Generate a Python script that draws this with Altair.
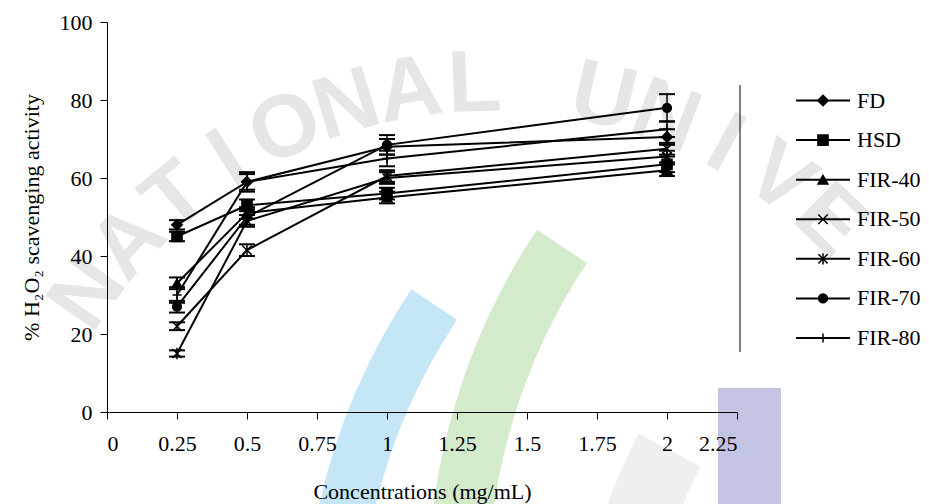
import math
import altair as alt
import pandas as pd

# Concentrations (mg/mL) and mean % H2O2 scavenging activity per drying method
conc = [0.25, 0.5, 1, 2]
series = ["FD", "HSD", "FIR-40", "FIR-50", "FIR-60", "FIR-70", "FIR-80"]

fd = [48, 59, 68, 70.5]
hsd = [45, 53, 56, 63.5]
fir40 = [33, 51, 55, 62]
fir50 = [22, 41.5, 60.5, 67.5]
fir60 = [15, 49, 60, 65.5]
fir70 = [27, 50, 68.5, 78]
fir80 = [30, 59, 65, 72.5]

# standard deviations
sd_fd = [1.2, 2.5, 2.0, 2.0]
sd_hsd = [1.2, 1.5, 1.5, 2.0]
sd_fir40 = [1.5, 1.5, 1.5, 1.5]
sd_fir50 = [1.0, 1.5, 1.5, 1.5]
sd_fir60 = [0.8, 1.5, 1.5, 1.5]
sd_fir70 = [1.5, 2.0, 2.5, 3.5]
sd_fir80 = [2.0, 2.0, 2.0, 2.0]

x_ticks = [0, 0.25, 0.5, 0.75, 1, 1.25, 1.5, 1.75, 2, 2.25]
y_ticks = [0, 20, 40, 60, 80, 100]

means = [fd, hsd, fir40, fir50, fir60, fir70, fir80]
sds = [sd_fd, sd_hsd, sd_fir40, sd_fir50, sd_fir60, sd_fir70, sd_fir80]

rows = []
for name, m, s in zip(series, means, sds):
    for c, v, e in zip(conc, m, s):
        rows.append({"series": name, "conc": c, "val": v, "lo": v - e, "hi": v + e})
df = pd.DataFrame(rows)
legend_df = pd.DataFrame({"series": series})

SERIF = "Times New Roman"
FS = 22

# marker styles
shapes = [
    "diamond",
    "square",
    "triangle-up",
    "M-1,-1L1,1M-1,1L1,-1",
    "M-1,-1L1,1M-1,1L1,-1M0,-1.25L0,1.25",
    "circle",
    "M-1.1,0L1.1,0M0,-1.1L0,1.1",
]
sizes = [110, 70, 90, 90, 110, 35, 110]
widths = [2, 2, 2, 2, 2, 2, 1]

shape_enc = alt.Shape("series:N", scale=alt.Scale(domain=series, range=shapes), legend=None)
size_enc = alt.Size("series:N", scale=alt.Scale(domain=series, range=sizes), legend=None)
width_enc = alt.StrokeWidth("series:N", scale=alt.Scale(domain=series, range=widths), legend=None)

x_enc = alt.X(
    "conc:Q",
    scale=alt.Scale(domain=[0, 2.25], nice=False, zero=False),
    axis=alt.Axis(
        values=x_ticks, title="Concentrations (mg/mL)", labelExpr="datum.value", zindex=2
    ),
)
y_enc = alt.Y(
    "val:Q",
    scale=alt.Scale(domain=[0, 100], nice=False),
    axis=alt.Axis(values=y_ticks, title="% H₂O₂ scavenging activity", zindex=2),
)

base = alt.Chart(df)

lines = base.mark_line(color="black").encode(
    x=x_enc, y=y_enc, detail="series:N", strokeWidth=width_enc
)
bars = base.mark_rule(color="black", strokeWidth=1.5).encode(
    x="conc:Q", y="lo:Q", y2="hi:Q"
)
cap_hi = base.mark_rule(color="black", strokeWidth=2, xOffset=-8, x2Offset=8).encode(
    x="conc:Q", x2="conc:Q", y="hi:Q"
)
cap_lo = base.mark_rule(color="black", strokeWidth=2, xOffset=-8, x2Offset=8).encode(
    x="conc:Q", x2="conc:Q", y="lo:Q"
)
points = base.mark_point(
    filled=True, fill="black", stroke="black", strokeWidth=1.5, opacity=1
).encode(x="conc:Q", y="val:Q", shape=shape_enc, size=size_enc)

main = alt.layer(lines, bars, cap_hi, cap_lo, points)

# legend column on the right
leg_y = alt.Y(
    "series:N",
    scale=alt.Scale(type="point", domain=series, range=[78.5, 316], padding=0),
    axis=None,
)
leg_base = alt.Chart(legend_df)
leg_lines = leg_base.mark_rule(color="black").encode(
    x=alt.value(689), x2=alt.value(743), y=leg_y, strokeWidth=width_enc
)
leg_pts = leg_base.mark_point(
    filled=True, fill="black", stroke="black", strokeWidth=1.5, opacity=1
).encode(x=alt.value(716), y=leg_y, shape=shape_enc, size=size_enc)
leg_text = leg_base.mark_text(
    align="left", baseline="middle", font=SERIF, fontSize=FS, color="black"
).encode(x=alt.value(750), y=leg_y, text="series:N")
leg_edge = alt.Chart(legend_df.head(1)).mark_rule(color="black", strokeWidth=1).encode(
    x=alt.value(633), y=alt.value(63), y2=alt.value(330)
)
legend = alt.layer(leg_edge, leg_lines, leg_pts, leg_text)

# faint university emblem behind the plot
emblem = []
emblem.append(
    alt.Chart(legend_df.head(1)).mark_rect(color="#c3c4e4").encode(
        x=alt.value(611), x2=alt.value(674), y=alt.value(366), y2=alt.value(490)
    )
)
for cx, cy, t1, t2, r1, r2, col in [
    (837, 622, 4.86, 5.30, 585, 640, "#c4e6f7"),
    (971, 568, 4.80, 5.30, 590, 650, "#d3eacb"),
    (1000, 660, 4.78, 5.20, 460, 530, "#efefef"),
]:
    emblem.append(
        alt.Chart(legend_df.head(1)).mark_arc(
            color=col, theta=t1, theta2=t2, radius=r1, radius2=r2
        ).encode(x=alt.value(cx), y=alt.value(cy))
    )
letters = "NATIONAL UNIVE"
for i, ch in enumerate(letters):
    if ch == " ":
        continue
    phi = -55 + 7.6 * i
    px = 490 + 490 * math.sin(math.radians(phi)) - 107
    py = 575 - 490 * math.cos(math.radians(phi)) - 22
    emblem.append(
        alt.Chart(legend_df.head(1)).mark_text(
            text=ch, font="Liberation Sans", fontWeight="bold",
            fontSize=88, color="#e6e6e6", angle=(phi + 360) % 360,
            align="center", baseline="middle",
        ).encode(x=alt.value(px), y=alt.value(py))
    )

chart = (
    alt.layer(*emblem, main, legend)
    .resolve_scale(y="independent")
    .properties(
        width=630,
        height=390,
        autosize="none",
        padding={"left": 107, "top": 22, "right": 192, "bottom": 92},
        background="white",
    )
    .configure(font=SERIF)
    .configure_view(stroke=None)
    .configure_axis(
        grid=False,
        domainColor="black",
        domainWidth=1,
        tickColor="black",
        tickWidth=1,
        tickSize=7,
        labelFont=SERIF,
        labelFontSize=FS,
        labelColor="black",
        titleFont=SERIF,
        titleFontSize=FS,
        titleFontWeight="normal",
        titleColor="black",
    )
    .configure_axisX(labelPadding=14, titlePadding=27)
    .configure_axisY(labelPadding=8, titlePadding=16)
)

chart.save("out.html", embed_options={"renderer": "svg", "actions": False})
